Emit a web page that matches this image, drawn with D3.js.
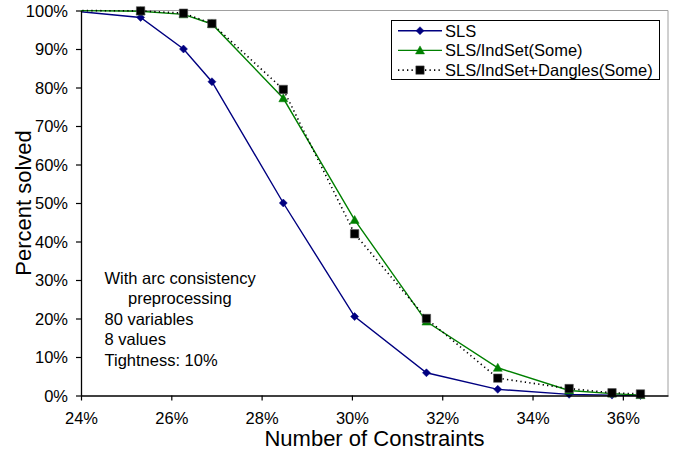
<!DOCTYPE html>
<html>
<head>
<meta charset="utf-8">
<script src="https://cdn.jsdelivr.net/npm/d3@7"></script>
<style>
  html, body { margin: 0; padding: 0; background: #fff; }
  svg { display: block; font-family: "Liberation Sans", Arial, sans-serif; }
</style>
</head>
<body>
<svg id="chart" width="681" height="455"></svg>
<script>
// Constraint density (% of possible constraints) for each run
const constraintPct = [23.73, 25.32, 26.27, 26.90, 28.48, 30.06, 31.65, 33.23, 34.81, 35.76, 36.39];

// Percent of instances solved per method
const slsSolved      = [100, 98.2, 90.0, 81.5, 50.0, 20.5, 5.9, 1.6, 0.3, 0.1, 0.0];
const indSetSolved   = [100, 99.8, 99.0, 96.5, 77.2, 45.6, 19.2, 7.2, 1.3, 0.5, 0.1];
const danglesSolved  = [100, 99.9, 99.3, 96.6, 79.5, 42.0, 20.0, 4.5, 1.8, 0.7, 0.4];

const seriesNames = ["SLS", "SLS/IndSet(Some)", "SLS/IndSet+Dangles(Some)"];

const xTicks = [24, 26, 28, 30, 32, 34, 36];
const yTicks = [0, 10, 20, 30, 40, 50, 60, 70, 80, 90, 100];

const noteLines = ["With arc consistency", "preprocessing", "80 variables", "8 values", "Tightness: 10%"];

(function () {
const svg = d3.select("#chart");
const pL = 81, pR = 668, pT = 10.5, pB = 395.5;
const labelSize = "16.5px";

const x = d3.scaleLinear().domain([24, 37]).range([pL, pR]);
const y = d3.scaleLinear().domain([0, 100]).range([pB, pT]);

// plot-area clip so the off-scale first point stays hidden
svg.append("defs").append("clipPath").attr("id", "plotClip")
  .append("rect").attr("x", pL).attr("y", pT - 6)
  .attr("width", pR - pL + 6).attr("height", pB - pT + 12);

// gray frame on top and right
svg.append("path")
  .attr("d", `M${pL},${pT}H${pR}V${pB}`)
  .attr("fill", "none").attr("stroke", "#a0a0a0").attr("stroke-width", 1);

const series = [
  { name: seriesNames[0], values: slsSolved, color: "#000080", dash: null, marker: "diamond", mfill: "#000080" },
  { name: seriesNames[1], values: indSetSolved, color: "#008000", dash: null, marker: "triangle", mfill: "#008000" },
  { name: seriesNames[2], values: danglesSolved, color: "#000000", dash: "1.3,3.2", marker: "square", mfill: "#000000" }
];

function markerPath(kind) {
  if (kind === "diamond") return "M0,-4L4,0L0,4L-4,0Z";
  if (kind === "triangle") return "M0,-4.5L4.5,3.5L-4.5,3.5Z";
  return "M-4.2,-4.2H4.2V4.2H-4.2Z";
}

const line = d3.line().x((d, i) => x(constraintPct[i])).y(d => y(d));

const plot = svg.append("g").attr("clip-path", "url(#plotClip)");

series.forEach(s => {
  plot.append("path")
    .attr("d", line(s.values))
    .attr("fill", "none")
    .attr("stroke", s.color)
    .attr("stroke-width", s.dash ? 1.6 : 1.4)
    .attr("stroke-dasharray", s.dash);
});

series.forEach(s => {
  plot.selectAll(null).data(s.values).enter().append("path")
    .attr("d", markerPath(s.marker))
    .attr("transform", (d, i) => `translate(${x(constraintPct[i])},${y(d)})`)
    .attr("fill", s.mfill)
    .attr("stroke", s.marker === "square" ? "#555" : s.mfill)
    .attr("stroke-width", s.marker === "square" ? 0.6 : 0.5);
});

// axes
const xAxis = d3.axisBottom(x).tickValues(xTicks).tickFormat(d => d + "%").tickSizeInner(5).tickSizeOuter(0).tickPadding(12);
const yAxis = d3.axisLeft(y).tickValues(yTicks).tickFormat(d => d + "%").tickSizeInner(5).tickSizeOuter(0).tickPadding(8);

const gx = svg.append("g").attr("transform", `translate(0,${pB})`).call(xAxis);
const gy = svg.append("g").attr("transform", `translate(${pL},0)`).call(yAxis);
[gx, gy].forEach(g => {
  g.select(".domain").attr("stroke", "#000").attr("stroke-width", 1.3);
  g.selectAll(".tick line").attr("stroke", "#000").attr("stroke-width", 1.2);
  g.selectAll(".tick text").attr("fill", "#000").style("font-size", labelSize)
    .style("font-family", "'Liberation Sans', Arial, sans-serif");
});
gy.selectAll(".tick text").attr("dy", "0.36em");

// axis titles
svg.append("text")
  .attr("x", (pL + pR) / 2).attr("y", 446)
  .attr("text-anchor", "middle").style("font-size", "22px").text("Number of Constraints");
svg.append("text")
  .attr("transform", `translate(31,${(pT + pB) / 2}) rotate(-90)`)
  .attr("text-anchor", "middle").style("font-size", "22px").text("Percent solved");

// annotation block
const note = svg.append("text").style("font-size", labelSize);
noteLines.forEach((t, i) => {
  note.append("tspan")
    .attr("x", i === 1 ? 128 : 104.5)
    .attr("y", 284 + i * 20.4)
    .text(t);
});

// legend
const lg = svg.append("g").attr("transform", "translate(391,20)");
lg.append("rect").attr("x", 0.5).attr("y", 0.5).attr("width", 268).attr("height", 59)
  .attr("fill", "#fff").attr("stroke", "#000").attr("stroke-width", 1);
series.forEach((s, i) => {
  const cy = 10.7 + i * 19.7;
  lg.append("line").attr("x1", 7).attr("x2", 51).attr("y1", cy).attr("y2", cy)
    .attr("stroke", s.color).attr("stroke-width", s.dash ? 1.6 : 1.4)
    .attr("stroke-dasharray", s.dash);
  lg.append("path").attr("d", markerPath(s.marker))
    .attr("transform", `translate(29,${cy})`).attr("fill", s.mfill)
    .attr("stroke", s.marker === "square" ? "#555" : s.mfill).attr("stroke-width", 0.5);
  lg.append("text").attr("x", 54).attr("y", cy).attr("dy", "0.36em")
    .style("font-size", labelSize).text(s.name);
});
})();
</script>
</body>
</html>
